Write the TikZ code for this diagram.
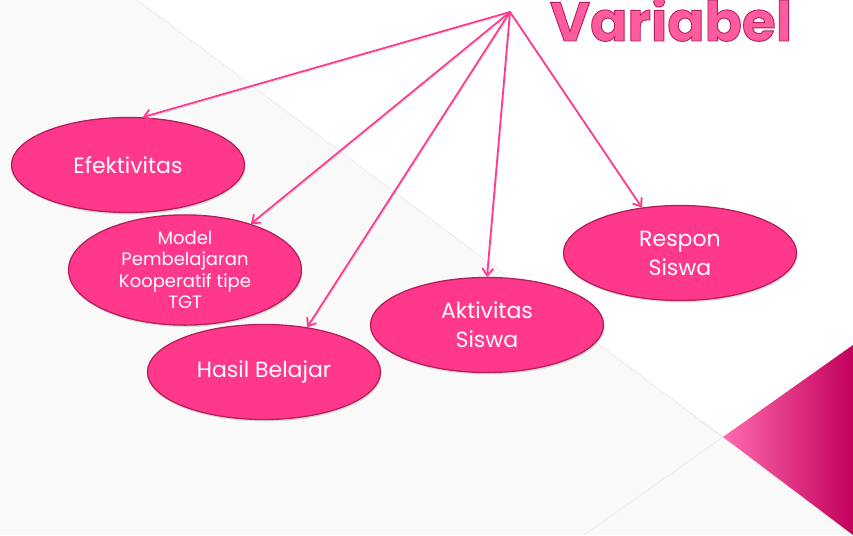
\documentclass[tikz,border=0pt]{standalone}
\usepackage{fontspec}
\setmainfont{Poppins}
\usetikzlibrary{shapes.geometric, arrows.meta, shadows}
\definecolor{bubblepink}{HTML}{FF388C}
\definecolor{rim}{HTML}{B3205C}
\definecolor{linkpink}{HTML}{FF3A90}
\definecolor{titlepink}{HTML}{FF5C9F}
\definecolor{paper}{HTML}{F9F9F9}
\definecolor{edgegray}{HTML}{E2E2E2}
\definecolor{tipl}{HTML}{FF6AAE}
\definecolor{tipm}{HTML}{FF0284}
\definecolor{tipr}{HTML}{C2005C}
% Outlined text (fill and stroke).
\newcommand{\outlined}[1]{\special{pdf:literal 2 Tr 0.9 w 0.70 0.125 0.36 RG}#1\special{pdf:literal 0 Tr}}
\begin{document}
\begin{tikzpicture}[x=1pt, y=-1pt, line cap=round,
  >={Straight Barb[length=7pt, width=11pt]},
  bubble/.style={ellipse, draw=rim, fill=bubblepink, line width=1.3pt,
    minimum width=233pt, minimum height=95pt, inner sep=0pt, text=white,
    align=center, font=\fontsize{22}{29}\selectfont,
    drop shadow={shadow xshift=1pt, shadow yshift=-2pt, opacity=0.25}},
  link/.style={->, draw=linkpink, line width=1.8pt,
    preaction={draw=black, opacity=0.18, transform canvas={xshift=1pt, yshift=-1.5pt}}}]
  \useasboundingbox (0, 0) rectangle (853, 535);
  % Backdrop.
  \fill[white] (0, 0) rectangle (853, 535);
  \fill[paper] (0, 0) -- (137, 0) -- (723, 437) -- (853, 535) -- (0, 535) -- cycle;
  \draw[edgegray, thin] (137, 0) -- (723, 437) -- (584, 535);
  \draw[edgegray, thin] (700, 421) -- (723, 437);
  % Corner triangle.
  \shade[left color=tipl, middle color=tipm, right color=tipr]
    (723, 437) -- (853, 345) -- (853, 535) -- cycle;
  % Title.
  \node[anchor=base, text=titlepink, font=\fontsize{55}{55}\bfseries\selectfont]
    (title) at (671, 41) {\outlined{Variabel}};
  % Source of the arrows.
  \coordinate (V) at (510, 12);
  % The five variables.
  \node[bubble] (eff)   at (128, 165) {Efektivitas};
  \node[bubble, font=\fontsize{18}{21.5}\selectfont]
                (model) at (185, 270) {Model\\Pembelajaran\\Kooperatif tipe\\TGT};
  \node[bubble] (hasil) at (264, 372) {Hasil Belajar};
  \node[bubble] (akt)   at (487, 325) {Aktivitas\\Siswa};
  \node[bubble] (resp)  at (680, 253) {Respon\\Siswa};
  % Arrows.
  \draw[link] (V) -- (eff.73);
  \draw[link] (V) -- (model.35);
  \draw[link] (V) -- (hasil.46);
  \draw[link] (V) -- (akt.north);
  \draw[link] (V) -- (resp.130);
\end{tikzpicture}
\end{document}
